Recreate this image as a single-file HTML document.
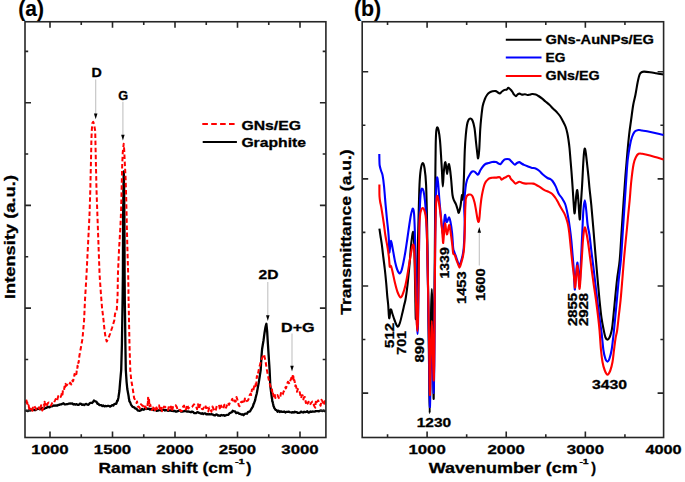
<!DOCTYPE html><html><head><meta charset="utf-8"><style>html,body{margin:0;padding:0;background:#fff;overflow:hidden}svg{display:block}svg text{font-family:"Liberation Sans",sans-serif}</style></head><body><svg width="685" height="482" viewBox="0 0 685 482">
<rect width="685" height="482" fill="#fff"/>
<path d="M25.6,410.63 L26.7,410.66 L27.8,411.04 L28.9,410.28 L30,410.21 L31.1,410.22 L32.2,409.56 L33.3,409.92 L34.4,409.98 L35.5,410.11 L36.58,408.93 L37.67,409.02 L38.75,408.53 L39.83,409.33 L40.92,408.97 L42,407.86 L43.07,409 L44.14,408.81 L45.21,408.2 L46.29,407.98 L47.36,407.16 L48.43,406.79 L49.5,407.34 L50.58,406.38 L51.67,406.27 L52.75,406.04 L53.83,405.44 L54.92,405.75 L56,405.42 L57.07,405.71 L58.14,404.98 L59.21,404.88 L60.29,404.41 L61.36,404.37 L62.43,403.81 L63.5,403.29 L64.6,404.34 L65.7,404.37 L66.8,404.2 L67.9,404.05 L69,403.54 L70.08,403.5 L71.16,403.66 L72.24,403.44 L73.32,404.49 L74.4,404.06 L75.52,404.71 L76.64,404.08 L77.76,404.9 L78.88,404.77 L80,403.6 L81.05,403.92 L82.1,404.92 L83.15,404.33 L84.2,405.07 L85.25,404.28 L86.3,403.85 L87.35,404.66 L88.4,404.89 L89.33,403.68 L90.27,402.92 L91.2,402.77 L92.1,402.98 L93,402.03 L93.9,400.47 L94.77,401.14 L95.63,401.44 L96.5,401.88 L97.43,403.75 L98.37,403.72 L99.3,405.08 L100.33,405.18 L101.37,405.07 L102.4,406.07 L103.43,405.48 L104.47,406.45 L105.5,405.96 L106.62,406.26 L107.75,405.85 L108.88,405.8 L110,406.66 L111.1,406.09 L112.2,405.06 L113.3,405.54 L114.27,404.06 L115.23,403.79 L116.2,403.9 L116.7,402.5 L117.2,400.64 L117.7,400.79 L118.2,398.6 L118.35,398 L118.5,397 L118.65,396 L118.8,395 L118.95,394 L119.1,393 L119.25,392 L119.4,391 L119.49,389.93 L119.58,388.85 L119.66,387.77 L119.75,386.7 L119.84,385.62 L119.92,384.55 L120.01,383.47 L120.1,382.4 L120.19,381.37 L120.28,380.33 L120.38,379.3 L120.47,378.27 L120.56,377.23 L120.65,376.2 L120.74,375.17 L120.83,374.13 L120.92,373.1 L121.02,372.07 L121.11,371.03 L121.2,370 L121.23,369 L121.26,368 L121.28,367 L121.31,366 L121.34,365 L121.37,364 L121.4,363 L121.42,362 L121.45,361 L121.48,360 L121.51,359 L121.54,358 L121.56,357 L121.59,356 L121.62,355 L121.65,354 L121.68,353 L121.7,352 L121.73,351 L121.76,350 L121.79,349 L121.82,348 L121.84,347 L121.87,346 L121.9,345 L121.92,344 L121.93,343 L121.95,342 L121.96,341 L121.98,340 L122,339 L122.01,338 L122.03,337 L122.04,336 L122.06,335 L122.08,334 L122.09,333 L122.11,332 L122.12,331 L122.14,330 L122.16,329 L122.17,328 L122.19,327 L122.2,326 L122.22,325 L122.24,324 L122.25,323 L122.27,322 L122.28,321 L122.3,320 L122.31,319 L122.33,318 L122.34,317 L122.36,316 L122.38,315 L122.39,314 L122.41,313 L122.42,312 L122.44,311 L122.45,310 L122.46,309 L122.48,308 L122.49,307 L122.51,306 L122.52,305 L122.54,304 L122.55,303 L122.57,302 L122.58,301 L122.6,300 L122.61,299 L122.62,298 L122.64,297 L122.65,296 L122.66,295 L122.67,294 L122.68,293 L122.7,292 L122.71,291 L122.72,290 L122.73,289 L122.74,288 L122.76,287 L122.77,286 L122.78,285 L122.79,284 L122.8,283 L122.82,282 L122.83,281 L122.84,280 L122.85,279 L122.86,278 L122.88,277 L122.89,276 L122.9,275 L122.9,274 L122.91,273 L122.91,272 L122.91,271 L122.92,270 L122.92,269 L122.93,268 L122.93,267 L122.93,266 L122.94,265 L122.94,264 L122.94,263 L122.95,262 L122.95,261 L122.95,260 L122.96,259 L122.96,258 L122.97,257 L122.97,256 L122.97,255 L122.98,254 L122.98,253 L122.98,252 L122.99,251 L122.99,250 L122.99,249 L123,248 L123,247 L123.01,246 L123.01,245 L123.01,244 L123.02,243 L123.02,242 L123.02,241 L123.03,240 L123.03,239 L123.03,238 L123.04,237 L123.04,236 L123.05,235 L123.05,234 L123.05,233 L123.06,232 L123.06,231 L123.06,230 L123.07,229 L123.07,228 L123.07,227 L123.08,226 L123.08,225 L123.09,224 L123.09,223 L123.09,222 L123.1,221 L123.1,220 L123.11,219 L123.12,218 L123.13,217 L123.14,216 L123.15,215 L123.16,214 L123.17,213 L123.18,212 L123.19,211 L123.2,210 L123.21,209 L123.22,208 L123.23,207 L123.24,206 L123.25,205 L123.26,204 L123.27,203 L123.28,202 L123.29,201 L123.3,200 L123.31,199 L123.32,198 L123.33,197 L123.34,196 L123.35,195 L123.36,194 L123.37,193 L123.38,192 L123.39,191 L123.4,190 L123.42,188.97 L123.44,187.94 L123.46,186.92 L123.48,185.89 L123.5,184.86 L123.52,183.83 L123.54,182.81 L123.56,181.78 L123.58,180.75 L123.59,179.72 L123.61,178.69 L123.63,177.67 L123.65,176.64 L123.67,175.61 L123.69,174.58 L123.71,173.56 L123.73,172.53 L123.75,171.5 L123.77,172.53 L123.79,173.56 L123.82,174.58 L123.84,175.61 L123.86,176.64 L123.88,177.67 L123.91,178.69 L123.93,179.72 L123.95,180.75 L123.97,181.78 L123.99,182.81 L124.02,183.83 L124.04,184.86 L124.06,185.89 L124.08,186.92 L124.11,187.94 L124.13,188.97 L124.15,190 L124.16,191 L124.17,192 L124.18,193 L124.18,194 L124.19,195 L124.2,196 L124.21,197 L124.22,198 L124.23,199 L124.23,200 L124.24,201 L124.25,202 L124.26,203 L124.27,204 L124.28,205 L124.28,206 L124.29,207 L124.3,208 L124.31,209 L124.32,210 L124.33,211 L124.33,212 L124.34,213 L124.35,214 L124.36,215 L124.37,216 L124.38,217 L124.38,218 L124.39,219 L124.4,220 L124.4,221 L124.41,222 L124.41,223 L124.41,224 L124.42,225 L124.42,226 L124.43,227 L124.43,228 L124.43,229 L124.44,230 L124.44,231 L124.44,232 L124.45,233 L124.45,234 L124.45,235 L124.46,236 L124.46,237 L124.47,238 L124.47,239 L124.47,240 L124.48,241 L124.48,242 L124.48,243 L124.49,244 L124.49,245 L124.49,246 L124.5,247 L124.5,248 L124.51,249 L124.51,250 L124.51,251 L124.52,252 L124.52,253 L124.52,254 L124.53,255 L124.53,256 L124.53,257 L124.54,258 L124.54,259 L124.55,260 L124.55,261 L124.55,262 L124.56,263 L124.56,264 L124.56,265 L124.57,266 L124.57,267 L124.57,268 L124.58,269 L124.58,270 L124.59,271 L124.59,272 L124.59,273 L124.6,274 L124.6,275 L124.61,276 L124.62,277 L124.62,278 L124.63,279 L124.64,280 L124.65,281 L124.66,282 L124.66,283 L124.67,284 L124.68,285 L124.69,286 L124.7,287 L124.7,288 L124.71,289 L124.72,290 L124.73,291 L124.74,292 L124.74,293 L124.75,294 L124.76,295 L124.77,296 L124.78,297 L124.78,298 L124.79,299 L124.8,300 L124.81,301 L124.83,302 L124.84,303 L124.86,304 L124.88,305 L124.89,306 L124.91,307 L124.92,308 L124.94,309 L124.95,310 L124.96,311 L124.98,312 L124.99,313 L125.01,314 L125.02,315 L125.04,316 L125.05,317 L125.07,318 L125.08,319 L125.1,320 L125.11,321 L125.12,322 L125.14,323 L125.15,324 L125.16,325 L125.17,326 L125.18,327 L125.2,328 L125.21,329 L125.22,330 L125.23,331 L125.24,332 L125.26,333 L125.27,334 L125.28,335 L125.29,336 L125.3,337 L125.32,338 L125.33,339 L125.34,340 L125.35,341 L125.36,342 L125.38,343 L125.39,344 L125.4,345 L125.42,346 L125.43,347 L125.45,348 L125.46,349 L125.48,350 L125.5,351 L125.51,352 L125.53,353 L125.54,354 L125.56,355 L125.58,356 L125.59,357 L125.61,358 L125.62,359 L125.64,360 L125.66,361 L125.67,362 L125.69,363 L125.7,364 L125.72,365 L125.74,366 L125.75,367 L125.77,368 L125.78,369 L125.8,370 L125.87,371 L125.93,372 L126,373 L126.07,374 L126.13,375 L126.2,376 L126.27,377 L126.33,378 L126.4,379 L126.47,380 L126.53,381 L126.6,382 L126.7,383 L126.8,384 L126.9,385 L127,386 L127.1,387 L127.2,388 L127.3,389 L127.48,390 L127.67,391 L127.85,392 L128.03,393 L128.22,394 L128.4,395 L128.57,396.02 L128.73,397.03 L128.9,398.67 L129.07,398.96 L129.23,400.12 L129.4,401.24 L129.88,401.89 L130.36,402.76 L130.84,404.26 L131.32,405.1 L131.8,405.7 L132.6,406.98 L133.4,407.06 L134.2,407.34 L135,408.34 L135.95,408.56 L136.9,409.22 L137.85,410.56 L138.8,410.55 L139.87,410.86 L140.93,410.25 L142,408.87 L143.27,409.78 L144.53,409.32 L145.8,407.7 L146.85,409.04 L147.9,408.55 L148.95,408.79 L150,409.66 L151.12,408.82 L152.23,409.4 L153.35,410.16 L154.47,410.05 L155.58,409.87 L156.7,410.77 L157.74,410.59 L158.77,410.35 L159.81,409.71 L160.85,410.47 L161.89,410.29 L162.93,409.99 L163.96,409.82 L165,410.54 L166.03,410 L167.06,410.48 L168.09,410.82 L169.11,410.55 L170.14,410.31 L171.17,410.79 L172.2,410.59 L173.31,411.13 L174.43,410.83 L175.54,411.53 L176.66,411.51 L177.77,411.24 L178.89,410.59 L180,410.46 L181.11,411.61 L182.23,411.51 L183.34,411.35 L184.46,411.03 L185.57,410.97 L186.69,411.6 L187.8,411.49 L188.83,411.69 L189.86,411.9 L190.89,412.23 L191.91,411.59 L192.94,411.83 L193.97,413.01 L195,413.08 L196.04,413.21 L197.07,412.21 L198.11,412.41 L199.15,412.88 L200.19,413.27 L201.23,413.72 L202.26,413.17 L203.3,413.96 L204.3,413.37 L205.3,413.45 L206.3,414.35 L207.3,414.24 L208.3,414.42 L209.3,414.12 L210.44,414.41 L211.58,414.17 L212.72,414.5 L213.86,415.2 L215,415.47 L216.04,414.48 L217.08,414.63 L218.12,415.67 L219.16,415.49 L220.2,415.78 L221.36,415 L222.52,415.29 L223.68,415.06 L224.84,415.83 L226,415.22 L227.17,414.98 L228.33,414.82 L229.5,413.26 L230.3,412.92 L231.1,412.54 L231.9,412.14 L232.7,410.8 L233.85,411.27 L235,411.44 L236.15,413.13 L237.3,412.61 L238.33,412.88 L239.37,413.82 L240.4,413.98 L241.43,414.53 L242.47,414.25 L243.5,415.19 L244.67,413.77 L245.83,413.53 L247,413.73 L247.93,412.15 L248.87,411.69 L249.8,411.51 L250.53,410.57 L251.27,409.1 L252,408 L252.43,407.23 L252.85,406.67 L253.27,405.09 L253.7,403.66 L254.02,403.45 L254.34,402.22 L254.66,401.67 L254.98,400.66 L255.3,399.58 L255.6,397.86 L255.9,396.72 L256.2,395.58 L256.5,394.44 L256.8,393.3 L256.98,392.31 L257.16,391.32 L257.35,390.33 L257.53,389.34 L257.71,388.35 L257.89,387.35 L258.07,386.36 L258.25,385.37 L258.44,384.38 L258.62,383.39 L258.8,382.4 L258.96,381.37 L259.12,380.33 L259.27,379.3 L259.43,378.27 L259.59,377.23 L259.75,376.2 L259.91,375.17 L260.07,374.13 L260.23,373.1 L260.38,372.07 L260.54,371.03 L260.7,370 L260.76,369 L260.81,368 L260.87,367 L260.93,366 L260.99,365 L261.04,364 L261.1,363 L261.16,362 L261.21,361 L261.27,360 L261.33,359 L261.39,358 L261.44,357 L261.5,356 L261.59,355 L261.67,354 L261.76,353 L261.84,352 L261.93,351 L262.01,350 L262.1,349 L262.3,347.75 L262.5,346.5 L262.67,345.5 L262.83,344.5 L263,343.5 L263.17,342.5 L263.33,341.5 L263.5,340.5 L263.64,339.43 L263.79,338.36 L263.93,337.29 L264.07,336.21 L264.21,335.14 L264.36,334.07 L264.5,333 L264.67,332 L264.83,331 L265,330 L265.17,329 L265.33,328 L265.5,327 L265.8,325.93 L266.1,324.87 L266.4,323.8 L266.5,324.82 L266.6,325.85 L266.7,326.88 L266.8,327.9 L266.9,328.93 L267,329.95 L267.1,330.98 L267.2,332 L267.26,333 L267.31,334 L267.37,335 L267.43,336 L267.49,337 L267.54,338 L267.6,339 L267.66,340 L267.73,341 L267.79,342 L267.85,343 L267.92,344 L267.98,345 L268.05,346 L268.11,347 L268.17,348 L268.24,349 L268.3,350 L268.37,351.08 L268.44,352.16 L268.51,353.24 L268.58,354.32 L268.65,355.4 L268.72,356.48 L268.79,357.56 L268.86,358.64 L268.93,359.72 L269,360.8 L269.07,361.82 L269.13,362.84 L269.2,363.87 L269.27,364.89 L269.33,365.91 L269.4,366.93 L269.47,367.96 L269.53,368.98 L269.6,370 L269.65,371.04 L269.69,372.08 L269.74,373.12 L269.79,374.16 L269.83,375.2 L269.88,376.24 L269.93,377.28 L269.97,378.32 L270.02,379.36 L270.07,380.4 L270.11,381.44 L270.16,382.48 L270.21,383.52 L270.25,384.56 L270.3,385.6 L270.43,386.66 L270.56,387.71 L270.69,388.77 L270.81,389.83 L270.94,390.89 L271.07,391.94 L271.2,393 L271.34,394.01 L271.48,395.02 L271.61,396.04 L271.75,397.05 L271.89,398.51 L272.02,398.49 L272.16,399.77 L272.3,401.4 L272.6,401.64 L272.9,403.27 L273.2,404.36 L273.5,406.14 L273.87,406.65 L274.23,408.07 L274.6,408.33 L275.57,409.84 L276.53,410.15 L277.5,411.68 L278.63,410.73 L279.77,411.96 L280.9,411.29 L282.01,411.85 L283.13,411.91 L284.24,411.48 L285.36,412.51 L286.47,411.86 L287.59,411.95 L288.7,411.71 L289.72,412.03 L290.75,412.25 L291.77,412.6 L292.8,412.1 L293.82,412.56 L294.85,411.75 L295.88,412.15 L296.9,412.25 L297.93,412.95 L298.95,412.76 L299.98,412.52 L301,411.62 L302.05,412.08 L303.1,412.49 L304.15,411.78 L305.2,412.19 L306.25,411.99 L307.3,411.31 L308.35,412.64 L309.4,412.32 L310.45,411.44 L311.5,411.96 L312.55,411.46 L313.6,411.53 L314.68,411.64 L315.76,411.18 L316.85,411.12 L317.93,411.08 L319.01,411.34 L320.09,410.65 L321.17,410.45 L322.25,411.08 L323.34,410.4 L324.42,411.14 L325.5,410.49" fill="none" stroke="#000" stroke-width="2.3" stroke-linejoin="round"/>
<path d="M25.6,402.94 L26.5,400.41 L26.88,404.53 L27.25,402.18 L27.62,406.09 L28,406.19 L28.6,405.25 L29.2,408.84 L29.8,406.92 L30.4,410.2 L31,408.92 L31.5,408.17 L32,409.3 L32.5,410.84 L33,405.74 L34.25,405.99 L35.5,408.06 L36.75,410.59 L38,408.96 L39,407.38 L40,410.36 L41.1,405.25 L42.2,410.58 L43.3,407.64 L43.57,405.7 L43.83,404.47 L44.1,404.55 L44.37,406.53 L44.63,401.65 L44.9,402.99 L45.43,404.5 L45.97,404.07 L46.5,406.29 L48,402.88 L49.03,402.52 L50.07,403.07 L51.1,405.58 L52.07,403.23 L53.03,401.72 L54,402.51 L54.83,400.84 L55.65,399.05 L56.47,401.14 L57.3,399.69 L58.2,396.13 L59.1,397.28 L60,396.15 L60.67,396.89 L61.33,395.39 L62,392.52 L62.5,394.58 L63,389.49 L63.5,389.75 L64,390.18 L64.54,386.4 L65.08,386.95 L65.62,383.88 L66.16,385.77 L66.7,385.22 L67.85,384.09 L69,385.23 L70.15,382.64 L71.3,384.4 L71.69,383.01 L72.07,382.01 L72.46,380.51 L72.84,381.35 L73.23,380.9 L73.61,377.81 L74,377.76 L74.5,373.98 L75,375.93 L75.5,374.68 L76,375.27 L76.5,373.48 L76.75,370.01 L77,369.47 L77.25,369.78 L77.5,365.8 L77.75,366.82 L78,364.47 L78.25,363.24 L78.5,361.97 L78.68,362.36 L78.86,360.72 L79.04,359.08 L79.22,357.44 L79.4,355.8 L79.72,354.04 L80.04,352.28 L80.36,350.52 L80.68,348.76 L81,347 L81.3,345.34 L81.6,343.68 L81.9,342.02 L82.2,340.36 L82.5,338.7 L82.63,337.14 L82.77,335.58 L82.9,334.02 L83.03,332.47 L83.17,330.91 L83.3,329.35 L83.43,327.79 L83.57,326.23 L83.7,324.68 L83.83,323.12 L83.97,321.56 L84.1,320 L84.17,318.46 L84.24,316.92 L84.31,315.38 L84.38,313.85 L84.45,312.31 L84.52,310.77 L84.58,309.23 L84.65,307.69 L84.72,306.15 L84.79,304.62 L84.86,303.08 L84.93,301.54 L85,300 L85.09,298.44 L85.19,296.88 L85.28,295.31 L85.38,293.75 L85.47,292.19 L85.56,290.62 L85.66,289.06 L85.75,287.5 L85.84,285.94 L85.94,284.38 L86.03,282.81 L86.12,281.25 L86.22,279.69 L86.31,278.12 L86.41,276.56 L86.5,275 L86.58,273.5 L86.65,272 L86.72,270.5 L86.8,269 L86.88,267.5 L86.95,266 L87.03,264.5 L87.1,263 L87.17,261.5 L87.25,260 L87.33,258.5 L87.4,257 L87.47,255.5 L87.55,254 L87.62,252.5 L87.7,251 L87.78,249.5 L87.85,248 L87.92,246.5 L88,245 L88.08,243.5 L88.15,242 L88.22,240.5 L88.3,239 L88.38,237.5 L88.45,236 L88.53,234.5 L88.6,233 L88.67,231.5 L88.75,230 L88.83,228.5 L88.9,227 L88.97,225.5 L89.05,224 L89.12,222.5 L89.2,221 L89.28,219.5 L89.35,218 L89.42,216.5 L89.5,215 L89.55,213.44 L89.6,211.88 L89.65,210.31 L89.7,208.75 L89.75,207.19 L89.8,205.62 L89.85,204.06 L89.9,202.5 L89.95,200.94 L90,199.38 L90.05,197.81 L90.1,196.25 L90.15,194.69 L90.2,193.12 L90.25,191.56 L90.3,190 L90.33,188.5 L90.37,187 L90.41,185.5 L90.44,184 L90.47,182.5 L90.51,181 L90.55,179.5 L90.58,178 L90.61,176.5 L90.65,175 L90.69,173.5 L90.72,172 L90.75,170.5 L90.79,169 L90.83,167.5 L90.86,166 L90.89,164.5 L90.93,163 L90.97,161.5 L91,160 L91.03,158.46 L91.06,156.92 L91.09,155.38 L91.12,153.85 L91.15,152.31 L91.18,150.77 L91.22,149.23 L91.25,147.69 L91.28,146.15 L91.31,144.62 L91.34,143.08 L91.37,141.54 L91.4,140 L91.47,138.33 L91.53,136.67 L91.6,135 L91.67,133.33 L91.73,131.67 L91.8,130 L91.95,128.25 L92.1,126.5 L92.25,124.75 L92.4,123 L93.2,121.8 L94,124 L94.3,125.75 L94.6,127.5 L94.9,129.25 L95.2,131 L95.23,132.55 L95.27,134.1 L95.3,135.64 L95.33,137.19 L95.37,138.74 L95.4,140.29 L95.43,141.83 L95.47,143.38 L95.5,144.93 L95.53,146.48 L95.57,148.02 L95.6,149.57 L95.63,151.12 L95.67,152.67 L95.7,154.21 L95.73,155.76 L95.77,157.31 L95.8,158.86 L95.83,160.4 L95.87,161.95 L95.9,163.5 L95.94,165.06 L95.97,166.62 L96.01,168.18 L96.04,169.74 L96.08,171.29 L96.11,172.85 L96.15,174.41 L96.18,175.97 L96.22,177.53 L96.25,179.09 L96.29,180.65 L96.32,182.21 L96.36,183.76 L96.39,185.32 L96.43,186.88 L96.46,188.44 L96.5,190 L96.56,191.56 L96.61,193.12 L96.67,194.69 L96.72,196.25 L96.78,197.81 L96.84,199.38 L96.89,200.94 L96.95,202.5 L97.01,204.06 L97.06,205.62 L97.12,207.19 L97.18,208.75 L97.23,210.31 L97.29,211.88 L97.34,213.44 L97.4,215 L97.46,216.5 L97.51,218 L97.56,219.5 L97.62,221 L97.68,222.5 L97.73,224 L97.78,225.5 L97.84,227 L97.9,228.5 L97.95,230 L98,231.5 L98.06,233 L98.12,234.5 L98.17,236 L98.22,237.5 L98.28,239 L98.34,240.5 L98.39,242 L98.44,243.5 L98.5,245 L98.56,246.5 L98.61,248 L98.66,249.5 L98.72,251 L98.78,252.5 L98.83,254 L98.88,255.5 L98.94,257 L99,258.5 L99.05,260 L99.1,261.5 L99.16,263 L99.22,264.5 L99.27,266 L99.32,267.5 L99.38,269 L99.44,270.5 L99.49,272 L99.54,273.5 L99.6,275 L99.71,276.54 L99.82,278.08 L99.92,279.62 L100.03,281.15 L100.14,282.69 L100.25,284.23 L100.35,285.77 L100.46,287.31 L100.57,288.85 L100.68,290.38 L100.78,291.92 L100.89,293.46 L101,295 L101.12,296.54 L101.25,298.07 L101.38,299.61 L101.5,301.15 L101.62,302.69 L101.75,304.23 L101.88,305.76 L102,307.3 L102.19,308.89 L102.38,310.48 L102.56,312.06 L102.75,313.65 L102.94,315.24 L103.12,316.82 L103.31,318.41 L103.5,320 L103.67,321.67 L103.83,323.33 L104,325 L104.17,326.67 L104.33,328.33 L104.5,330 L104.75,331.75 L105,333.5 L105.25,335.25 L105.5,337 L105.9,338.5 L106.3,340 L106.7,341.5 L107.6,339.75 L108.5,338 L109.25,336 L110,334 L110.5,332.5 L111,331 L111.5,329.5 L112,328 L112.48,326.4 L112.96,324.8 L113.44,323.2 L113.92,321.6 L114.4,320 L114.55,318.5 L114.7,317 L114.85,315.5 L115,314 L115.6,312.5 L116.2,311 L116.8,309.5 L116.89,307.89 L116.98,306.28 L117.07,304.67 L117.16,303.06 L117.24,301.44 L117.33,299.83 L117.42,298.22 L117.51,296.61 L117.6,295 L117.62,293.46 L117.65,291.92 L117.67,290.38 L117.69,288.85 L117.72,287.31 L117.74,285.77 L117.76,284.23 L117.78,282.69 L117.81,281.15 L117.83,279.62 L117.85,278.08 L117.88,276.54 L117.9,275 L117.97,273.44 L118.04,271.88 L118.11,270.31 L118.18,268.75 L118.24,267.19 L118.31,265.62 L118.38,264.06 L118.45,262.5 L118.52,260.94 L118.59,259.38 L118.66,257.81 L118.72,256.25 L118.79,254.69 L118.86,253.12 L118.93,251.56 L119,250 L119.09,248.44 L119.19,246.88 L119.28,245.31 L119.38,243.75 L119.47,242.19 L119.56,240.62 L119.66,239.06 L119.75,237.5 L119.84,235.94 L119.94,234.38 L120.03,232.81 L120.12,231.25 L120.22,229.69 L120.31,228.12 L120.41,226.56 L120.5,225 L120.56,223.5 L120.62,222 L120.68,220.5 L120.74,219 L120.8,217.5 L120.86,216 L120.92,214.5 L120.98,213 L121.04,211.5 L121.1,210 L121.14,208.46 L121.18,206.92 L121.22,205.38 L121.25,203.85 L121.29,202.31 L121.33,200.77 L121.37,199.23 L121.41,197.69 L121.45,196.15 L121.48,194.62 L121.52,193.08 L121.56,191.54 L121.6,190 L121.64,188.44 L121.67,186.88 L121.71,185.31 L121.75,183.75 L121.79,182.19 L121.83,180.62 L121.86,179.06 L121.9,177.5 L121.94,175.94 L121.97,174.38 L122.01,172.81 L122.05,171.25 L122.09,169.69 L122.12,168.12 L122.16,166.56 L122.2,165 L122.28,163.38 L122.35,161.75 L122.42,160.12 L122.5,158.5 L122.58,156.88 L122.65,155.25 L122.72,153.62 L122.8,152 L122.98,150.36 L123.16,148.72 L123.34,147.08 L123.52,145.44 L123.7,143.8 L123.83,145.35 L123.95,146.9 L124.08,148.45 L124.2,150 L124.28,151.62 L124.35,153.25 L124.42,154.88 L124.5,156.5 L124.58,158.12 L124.65,159.75 L124.72,161.38 L124.8,163 L124.88,164.5 L124.96,166 L125.04,167.5 L125.12,169 L125.2,170.5 L125.28,172 L125.36,173.5 L125.44,175 L125.52,176.5 L125.6,178 L125.65,179.54 L125.69,181.08 L125.74,182.62 L125.78,184.15 L125.83,185.69 L125.88,187.23 L125.92,188.77 L125.97,190.31 L126.02,191.85 L126.06,193.38 L126.11,194.92 L126.15,196.46 L126.2,198 L126.24,199.55 L126.27,201.09 L126.31,202.64 L126.35,204.18 L126.38,205.73 L126.42,207.27 L126.45,208.82 L126.49,210.36 L126.53,211.91 L126.56,213.45 L126.6,215 L126.63,216.5 L126.67,218 L126.7,219.5 L126.74,221 L126.77,222.5 L126.81,224 L126.84,225.5 L126.88,227 L126.91,228.5 L126.95,230 L126.98,231.5 L127.02,233 L127.05,234.5 L127.09,236 L127.12,237.5 L127.16,239 L127.19,240.5 L127.23,242 L127.27,243.5 L127.3,245 L127.34,246.5 L127.39,248 L127.44,249.5 L127.48,251 L127.52,252.5 L127.57,254 L127.61,255.5 L127.66,257 L127.7,258.5 L127.75,260 L127.79,261.5 L127.84,263 L127.88,264.5 L127.93,266 L127.97,267.5 L128.02,269 L128.06,270.5 L128.11,272 L128.16,273.5 L128.2,275 L128.22,276.56 L128.25,278.12 L128.27,279.69 L128.3,281.25 L128.32,282.81 L128.35,284.38 L128.38,285.94 L128.4,287.5 L128.42,289.06 L128.45,290.62 L128.47,292.19 L128.5,293.75 L128.53,295.31 L128.55,296.88 L128.57,298.44 L128.6,300 L128.63,301.54 L128.66,303.08 L128.69,304.62 L128.72,306.15 L128.75,307.69 L128.78,309.23 L128.82,310.77 L128.85,312.31 L128.88,313.85 L128.91,315.38 L128.94,316.92 L128.97,318.46 L129,320 L129.03,321.56 L129.06,323.12 L129.09,324.69 L129.12,326.25 L129.16,327.81 L129.19,329.38 L129.22,330.94 L129.25,332.5 L129.28,334.06 L129.31,335.62 L129.34,337.19 L129.38,338.75 L129.41,340.31 L129.44,341.88 L129.47,343.44 L129.5,345 L129.55,346.56 L129.6,348.12 L129.65,349.69 L129.7,351.25 L129.75,352.81 L129.8,354.38 L129.85,355.94 L129.9,357.5 L129.95,359.06 L130,360.62 L130.05,362.19 L130.1,363.75 L130.15,365.31 L130.2,366.88 L130.25,368.44 L130.3,370 L130.45,371.67 L130.6,373.33 L130.75,375 L130.9,376.67 L131.05,378.33 L131.2,380 L131.52,381.77 L131.85,383.55 L132.18,385.33 L132.5,387.1 L132.73,388.66 L132.96,390.21 L133.19,391.77 L133.41,393.33 L133.64,394.89 L133.87,396.44 L134.1,398 L134.93,399.67 L135.77,401.33 L136.6,403 L137.04,401.48 L137.48,405.27 L137.92,406.68 L138.36,406.57 L138.8,406.64 L139.87,408.31 L140.93,404.16 L142,405.31 L143,405.93 L144,408.59 L145,406.37 L146.25,408.55 L147.5,406.85 L147.59,404.35 L147.68,403.37 L147.77,406.6 L147.86,404.01 L147.94,400.57 L148.03,397.8 L148.12,399.6 L148.21,399.6 L148.3,397.02 L148.45,397.04 L148.6,400.5 L148.75,403.05 L148.9,399.86 L149.05,399.7 L149.2,402.53 L149.35,404.02 L149.5,406.6 L150.33,404.69 L151.17,409.28 L152,409.93 L153,408.2 L154,406.06 L155,410.32 L156,406.25 L157,409.17 L158,405.51 L159,405.33 L160,409.06 L161,406.77 L162,411.21 L163,408.47 L164,406.62 L165,406.84 L166,407.67 L167,408.83 L168,410.19 L169,405.63 L170,407.36 L171,406.53 L172,411.34 L173.18,406.1 L174.35,405.31 L175.52,405.11 L176.7,406.86 L177.8,410.22 L178.9,410.47 L180,409.9 L181,411.24 L182,410.59 L183,406.73 L184,405.61 L185.1,410.12 L186.2,408.98 L187.3,404.69 L188.4,408.49 L189.6,406.94 L190.8,407.08 L192,406.99 L193,405.64 L194,404.27 L195,405.55 L196,405.61 L197,409.23 L198,404.24 L199,409.29 L200,404.74 L201,405.89 L202,408.93 L203,409.18 L204,407.09 L205.06,405.16 L206.12,408.06 L207.18,407.82 L208.24,411.46 L209.3,407.46 L210.35,408.49 L211.4,411.68 L212.45,406.48 L213.5,408.76 L214.55,411.17 L215.6,410.9 L216.73,405.94 L217.87,405.31 L219,404.88 L220.07,409.77 L221.15,405.54 L222.23,408.23 L223.3,408.89 L224.23,405.03 L225.15,404.13 L226.07,407.75 L227,405.2 L228.03,402.62 L229.05,404.9 L230.07,402.05 L231.1,401.35 L232.3,398.87 L233.5,402.53 L234.27,402.77 L235.03,400.34 L235.8,401.46 L236.53,397.01 L237.27,399.34 L238,401.85 L238.8,405.47 L239.6,406.19 L240.4,403.52 L241.27,401.81 L242.13,401.98 L243,401.46 L243.93,403.57 L244.85,398.6 L245.77,401.82 L246.7,400.93 L247.47,400.77 L248.23,399.8 L249,398.14 L249.57,395.42 L250.15,394.32 L250.73,393.52 L251.3,394.99 L251.93,389.67 L252.57,389.28 L253.2,391.52 L253.87,387.52 L254.53,385.46 L255.2,384.3 L255.42,386.34 L255.65,383.9 L255.88,386.76 L256.1,385.1 L256.32,384.65 L256.55,379.24 L256.77,377.08 L257,376.08 L257.33,376.83 L257.67,375.17 L258,373.5 L258.33,371.83 L258.67,370.17 L259,368.5 L259.4,367 L259.8,365.5 L260.2,364 L260.6,362.5 L261,361 L261.75,359 L262.5,357 L263.25,355.65 L264,354.3 L264.38,355.98 L264.75,357.65 L265.12,359.32 L265.5,361 L265.73,362.5 L265.97,364 L266.2,365.5 L266.43,367 L266.67,368.5 L266.9,370 L267.2,371.57 L267.5,373.14 L267.8,374.71 L268.1,376.29 L268.4,377.86 L268.7,379.43 L269,381 L269.42,382.53 L269.83,384.07 L270.25,385.6 L270.67,387.13 L271.08,388.67 L271.5,390.2 L272,389.27 L272.5,394.9 L273,393.5 L273.8,396.51 L274.6,394.08 L275.4,397.97 L276.2,396.39 L277.47,395.06 L278.73,397.97 L280,398.77 L280.93,392.96 L281.85,395.13 L282.77,394.49 L283.7,391.31 L284.12,391.18 L284.53,388.78 L284.95,388.12 L285.37,387.4 L285.78,388.43 L286.2,387.71 L287.03,383.99 L287.87,381.8 L288.7,382.66 L289.6,383.82 L290.5,379.91 L290.93,379.57 L291.37,377.82 L291.8,380.27 L292.4,377.94 L293,374.18 L293.26,375.53 L293.52,378.41 L293.78,380.46 L294.04,382.12 L294.3,379.95 L294.68,381.5 L295.06,385.81 L295.44,385.22 L295.82,385.58 L296.2,386.85 L297,391.75 L297.8,388.94 L298.6,391.5 L299.24,391.24 L299.88,392.6 L300.52,396.29 L301.16,398.08 L301.8,395.28 L302.57,395.23 L303.35,399.37 L304.12,397.17 L304.9,396.94 L305.82,402.91 L306.75,400.64 L307.68,403.62 L308.6,401.74 L309.83,405.03 L311.07,402.93 L312.3,401.58 L313.13,401.52 L313.97,405.58 L314.8,406.94 L315.3,407.68 L315.8,401.87 L316.3,404.19 L316.8,401.81 L317.3,401.73 L318.13,400.41 L318.97,402.07 L319.8,404.33 L320.63,405.72 L321.47,399.79 L322.3,401.04 L323.1,403.55 L323.9,405.15 L324.7,401.16 L325.5,401.36" fill="none" stroke="#ff0000" stroke-width="2" stroke-dasharray="4.5 2.6" stroke-linejoin="round"/>
<rect x="25" y="21.75" width="300.9" height="415.75" fill="none" stroke="#262626" stroke-width="1.6"/>
<path d="M50,437.5v-6M50,21.75v6M112.5,437.5v-6M112.5,21.75v6M175,437.5v-6M175,21.75v6M237.5,437.5v-6M237.5,21.75v6M300,437.5v-6M300,21.75v6M81.25,437.5v-3.2M81.25,21.75v3.2M143.75,437.5v-3.2M143.75,21.75v3.2M206.25,437.5v-3.2M206.25,21.75v3.2M268.75,437.5v-3.2M268.75,21.75v3.2M25,102.7h6M325.9,102.7h-6M25,205.4h6M325.9,205.4h-6M25,308.1h6M325.9,308.1h-6M25,410.8h6M325.9,410.8h-6M25,51.35h3.2M325.9,51.35h-3.2M25,154.05h3.2M325.9,154.05h-3.2M25,256.75h3.2M325.9,256.75h-3.2M25,359.45h3.2M325.9,359.45h-3.2" stroke="#262626" stroke-width="1.6" fill="none"/>
<rect x="362.2" y="21.75" width="301.4" height="415.75" fill="none" stroke="#262626" stroke-width="1.6"/>
<path d="M427.1,437.5v-6M427.1,21.75v6M506.23,437.5v-6M506.23,21.75v6M585.36,437.5v-6M585.36,21.75v6M387.54,437.5v-3.2M387.54,21.75v3.2M466.67,437.5v-3.2M466.67,21.75v3.2M545.8,437.5v-3.2M545.8,21.75v3.2M624.93,437.5v-3.2M624.93,21.75v3.2M362.2,71.7h6M663.6,71.7h-6M362.2,178.85h6M663.6,178.85h-6M362.2,286h6M663.6,286h-6M362.2,393.15h6M663.6,393.15h-6M362.2,125.27h3.2M663.6,125.27h-3.2M362.2,232.42h3.2M663.6,232.42h-3.2M362.2,339.57h3.2M663.6,339.57h-3.2" stroke="#262626" stroke-width="1.6" fill="none"/>
<line x1="95.7" y1="79.5" x2="95.7" y2="114" stroke="#c2c2c2" stroke-width="1.1"/>
<path d="M93.95,113.5 L97.45,113.5 L95.7,119.3 Z" fill="#000"/>
<line x1="122.9" y1="101.7" x2="122.9" y2="135.2" stroke="#c2c2c2" stroke-width="1.1"/>
<path d="M121.15,134.7 L124.65,134.7 L122.9,140.5 Z" fill="#000"/>
<line x1="267.8" y1="282" x2="267.8" y2="315.7" stroke="#c2c2c2" stroke-width="1.1"/>
<path d="M266.05,315.2 L269.55,315.2 L267.8,321 Z" fill="#000"/>
<line x1="292" y1="333.5" x2="292" y2="366.2" stroke="#c2c2c2" stroke-width="1.1"/>
<path d="M290.25,365.7 L293.75,365.7 L292,371.5 Z" fill="#000"/>
<text x="91.4" y="77" font-size="13" font-weight="bold" fill="#000" stroke="#000" stroke-width="0.3" textLength="10.3" lengthAdjust="spacingAndGlyphs">D</text>
<text x="118.3" y="99.6" font-size="13" font-weight="bold" fill="#000" stroke="#000" stroke-width="0.3" textLength="9.9" lengthAdjust="spacingAndGlyphs">G</text>
<text x="258.6" y="279.4" font-size="13" font-weight="bold" fill="#000" stroke="#000" stroke-width="0.3" textLength="19.9" lengthAdjust="spacingAndGlyphs">2D</text>
<text x="281" y="332.1" font-size="13" font-weight="bold" fill="#000" stroke="#000" stroke-width="0.3" textLength="33.6" lengthAdjust="spacingAndGlyphs">D+G</text>
<line x1="202.3" y1="124" x2="235" y2="124" stroke="#ff0000" stroke-width="2" stroke-dasharray="5.6 3.3"/>
<line x1="202.7" y1="142.1" x2="236.9" y2="142.1" stroke="#000" stroke-width="2"/>
<text x="241.4" y="129.6" font-size="13" font-weight="bold" fill="#000" stroke="#000" stroke-width="0.3" textLength="59.6" lengthAdjust="spacingAndGlyphs">GNs/EG</text>
<text x="241.4" y="147" font-size="13" font-weight="bold" fill="#000" stroke="#000" stroke-width="0.3" textLength="64.7" lengthAdjust="spacingAndGlyphs">Graphite</text>
<text x="31.3" y="454.1" font-size="13.2" font-weight="bold" fill="#000" stroke="#000" stroke-width="0.3" textLength="37.4" lengthAdjust="spacingAndGlyphs">1000</text>
<text x="93.8" y="454.1" font-size="13.2" font-weight="bold" fill="#000" stroke="#000" stroke-width="0.3" textLength="37.4" lengthAdjust="spacingAndGlyphs">1500</text>
<text x="156.3" y="454.1" font-size="13.2" font-weight="bold" fill="#000" stroke="#000" stroke-width="0.3" textLength="37.4" lengthAdjust="spacingAndGlyphs">2000</text>
<text x="218.8" y="454.1" font-size="13.2" font-weight="bold" fill="#000" stroke="#000" stroke-width="0.3" textLength="37.4" lengthAdjust="spacingAndGlyphs">2500</text>
<text x="281.3" y="454.1" font-size="13.2" font-weight="bold" fill="#000" stroke="#000" stroke-width="0.3" textLength="37.4" lengthAdjust="spacingAndGlyphs">3000</text>
<text x="98.6" y="472.5" font-size="14.5" font-weight="bold" fill="#000" stroke="#000" stroke-width="0.3" textLength="134.7" lengthAdjust="spacingAndGlyphs">Raman shift (cm</text>
<text x="234.9" y="464.4" font-size="7.5" font-weight="bold" fill="#000" stroke="#000" stroke-width="0.3" textLength="9.7" lengthAdjust="spacingAndGlyphs">-1</text>
<text x="246.2" y="472.5" font-size="14.5" font-weight="bold" fill="#000" stroke="#000" stroke-width="0.3" textLength="5.2" lengthAdjust="spacingAndGlyphs">)</text>
<text x="14.6" y="299.1" font-size="15" font-weight="bold" fill="#000" stroke="#000" stroke-width="0.3" textLength="124.1" lengthAdjust="spacingAndGlyphs" transform="rotate(-90 14.6 299.1)">Intensity (a.u.)</text>
<text x="18.3" y="16" font-size="21.5" font-weight="bold" fill="#000" stroke="#000" stroke-width="0.15" textLength="25.6" lengthAdjust="spacingAndGlyphs">(a)</text>
<text x="353.9" y="15.8" font-size="21.5" font-weight="bold" fill="#000" stroke="#000" stroke-width="0.15" textLength="27.3" lengthAdjust="spacingAndGlyphs">(b)</text>
<text x="408.4" y="454.1" font-size="13.2" font-weight="bold" fill="#000" stroke="#000" stroke-width="0.3" textLength="37.4" lengthAdjust="spacingAndGlyphs">1000</text>
<text x="487.53" y="454.1" font-size="13.2" font-weight="bold" fill="#000" stroke="#000" stroke-width="0.3" textLength="37.4" lengthAdjust="spacingAndGlyphs">2000</text>
<text x="566.66" y="454.1" font-size="13.2" font-weight="bold" fill="#000" stroke="#000" stroke-width="0.3" textLength="37.4" lengthAdjust="spacingAndGlyphs">3000</text>
<text x="645.4" y="454.1" font-size="13.2" font-weight="bold" fill="#000" stroke="#000" stroke-width="0.3" textLength="36.2" lengthAdjust="spacingAndGlyphs">4000</text>
<text x="428.8" y="472.5" font-size="14.5" font-weight="bold" fill="#000" stroke="#000" stroke-width="0.3" textLength="148.9" lengthAdjust="spacingAndGlyphs">Wavenumber (cm</text>
<text x="579.4" y="464.3" font-size="7.5" font-weight="bold" fill="#000" stroke="#000" stroke-width="0.3" textLength="9.2" lengthAdjust="spacingAndGlyphs">-1</text>
<text x="591.2" y="472.5" font-size="14.5" font-weight="bold" fill="#000" stroke="#000" stroke-width="0.3" textLength="4.8" lengthAdjust="spacingAndGlyphs">)</text>
<text x="351.1" y="314.7" font-size="15" font-weight="bold" fill="#000" stroke="#000" stroke-width="0.3" textLength="165.4" lengthAdjust="spacingAndGlyphs" transform="rotate(-90 351.1 314.7)">Transmittance (a.u.)</text>
<line x1="505.8" y1="39.8" x2="541.5" y2="39.8" stroke="#000" stroke-width="2"/>
<line x1="505.8" y1="57.6" x2="541.5" y2="57.6" stroke="#0000ff" stroke-width="2"/>
<line x1="505.8" y1="76.1" x2="541.5" y2="76.1" stroke="#ff0000" stroke-width="2"/>
<text x="545.6" y="44.4" font-size="13" font-weight="bold" fill="#000" stroke="#000" stroke-width="0.3" textLength="108.2" lengthAdjust="spacingAndGlyphs">GNs-AuNPs/EG</text>
<text x="545.6" y="62.2" font-size="13" font-weight="bold" fill="#000" stroke="#000" stroke-width="0.3" textLength="19.9" lengthAdjust="spacingAndGlyphs">EG</text>
<text x="545.6" y="80.1" font-size="13" font-weight="bold" fill="#000" stroke="#000" stroke-width="0.3" textLength="54.1" lengthAdjust="spacingAndGlyphs">GNs/EG</text>
<path d="M379.4,228.6 C379.58,229.83 380.12,233.48 380.5,236 C380.88,238.52 381.23,240.2 381.7,243.7 C382.17,247.2 382.77,252.62 383.3,257 C383.83,261.38 384.42,265.67 384.9,270 C385.38,274.33 385.82,278.78 386.2,283 C386.58,287.22 386.87,291.63 387.2,295.3 C387.53,298.97 387.87,301.17 388.2,305 C388.53,308.83 388.78,317.55 389.2,318.3 C389.62,319.05 390.15,310.22 390.7,309.5 C391.25,308.78 391.87,312.25 392.5,314 C393.13,315.75 393.65,317.92 394.5,320 C395.35,322.08 396.68,326.08 397.6,326.5 C398.52,326.92 399.18,324.85 400,322.5 C400.82,320.15 401.8,315.32 402.5,312.4 C403.2,309.48 403.68,307.23 404.2,305 C404.72,302.77 405.05,302.33 405.6,299 C406.15,295.67 406.85,290.67 407.5,285 C408.15,279.33 408.92,271.5 409.5,265 C410.08,258.5 410.55,250.83 411,246 C411.45,241.17 411.87,238.38 412.2,236 C412.53,233.62 412.73,231.7 413,231.7 C413.27,231.7 413.55,232.12 413.8,236 C414.05,239.88 414.27,246 414.5,255 C414.73,264 414.98,279.33 415.2,290 C415.42,300.67 415.58,317.33 415.8,319 C416.02,320.67 416.22,309.83 416.5,300 C416.78,290.17 417.17,273.33 417.5,260 C417.83,246.67 418.17,232.5 418.5,220 C418.83,207.5 419.13,193.33 419.5,185 C419.87,176.67 420.18,173.65 420.7,170 C421.22,166.35 421.97,163.43 422.6,163.1 C423.23,162.77 423.92,164.35 424.5,168 C425.08,171.65 425.65,174.67 426.1,185 C426.55,195.33 426.85,210.83 427.2,230 C427.55,249.17 427.88,276.67 428.2,300 C428.52,323.33 428.85,351.17 429.1,370 C429.35,388.83 429.48,413 429.7,413 C429.92,413 430.17,387.17 430.4,370 C430.63,352.83 430.87,323.5 431.1,310 C431.33,296.5 431.57,289 431.8,289 C432.03,289 432.27,296.5 432.5,310 C432.73,323.5 433,355.33 433.2,370 C433.4,384.67 433.53,403 433.7,398 C433.87,393 434.05,359.67 434.2,340 C434.35,320.33 434.47,298.33 434.6,280 C434.73,261.67 434.9,243.33 435,230 C435.1,216.67 435.13,210 435.2,200 C435.27,190 435.32,179.17 435.4,170 C435.48,160.83 435.57,151.33 435.7,145 C435.83,138.67 435.95,134.95 436.2,132 C436.45,129.05 436.8,127.55 437.2,127.3 C437.6,127.05 438.13,128.3 438.6,130.5 C439.07,132.7 439.6,136.42 440,140.5 C440.4,144.58 440.67,149.75 441,155 C441.33,160.25 441.7,166.75 442,172 C442.3,177.25 442.5,186.5 442.8,186.5 C443.1,186.5 443.4,176.03 443.8,172 C444.2,167.97 444.8,163.13 445.2,162.3 C445.6,161.47 445.88,165.05 446.2,167 C446.52,168.95 446.78,174 447.1,174 C447.42,174 447.78,168.63 448.1,167 C448.42,165.37 448.67,163.7 449,164.2 C449.33,164.7 449.73,167.37 450.1,170 C450.47,172.63 450.8,175.83 451.2,180 C451.6,184.17 452.03,191.6 452.5,195 C452.97,198.4 453.43,198.88 454,200.4 C454.57,201.92 455.32,202.67 455.9,204.1 C456.48,205.53 457.02,207.55 457.5,209 C457.98,210.45 458.3,213.3 458.8,212.8 C459.3,212.3 459.97,208.97 460.5,206 C461.03,203.03 461.62,196.17 462,195 C462.38,193.83 462.48,201.83 462.8,199 C463.12,196.17 463.57,186.17 463.9,178 C464.23,169.83 464.48,157.17 464.8,150 C465.12,142.83 465.43,139.17 465.8,135 C466.17,130.83 466.55,127.5 467,125 C467.45,122.5 467.92,121.08 468.5,120 C469.08,118.92 469.83,118.42 470.5,118.5 C471.17,118.58 471.83,118.92 472.5,120.5 C473.17,122.08 473.92,124.42 474.5,128 C475.08,131.58 475.55,137.92 476,142 C476.45,146.08 476.85,149.78 477.2,152.5 C477.55,155.22 477.77,158.72 478.1,158.3 C478.43,157.88 478.85,154.72 479.2,150 C479.55,145.28 479.87,135.33 480.2,130 C480.53,124.67 480.78,122 481.2,118 C481.62,114 482.12,109.08 482.7,106 C483.28,102.92 483.98,101.33 484.7,99.5 C485.42,97.67 486.17,96.18 487,95 C487.83,93.82 488.78,93.02 489.7,92.4 C490.62,91.78 491.47,91.52 492.5,91.3 C493.53,91.08 494.98,90.9 495.9,91.1 C496.82,91.3 497.37,92.12 498,92.5 C498.63,92.88 499.03,93.57 499.7,93.4 C500.37,93.23 501.18,92.08 502,91.5 C502.82,90.92 503.85,90.2 504.6,89.9 C505.35,89.6 505.87,90.03 506.5,89.7 C507.13,89.37 507.73,87.93 508.4,87.9 C509.07,87.87 509.82,88.82 510.5,89.5 C511.18,90.18 511.92,91.17 512.5,92 C513.08,92.83 513.45,93.82 514,94.5 C514.55,95.18 515.22,96.1 515.8,96.1 C516.38,96.1 516.87,94.92 517.5,94.5 C518.13,94.08 518.85,93.58 519.6,93.6 C520.35,93.62 521.1,94.5 522,94.6 C522.9,94.7 524.08,94.13 525,94.2 C525.92,94.27 526.75,94.92 527.5,95 C528.25,95.08 528.75,94.87 529.5,94.7 C530.25,94.53 530.97,94.05 532,94 C533.03,93.95 534.62,94.07 535.7,94.4 C536.78,94.73 537.47,95.33 538.5,96 C539.53,96.67 540.73,97.48 541.9,98.4 C543.07,99.32 544.25,100.43 545.5,101.5 C546.75,102.57 548.15,103.63 549.4,104.8 C550.65,105.97 551.75,107.25 553,108.5 C554.25,109.75 555.73,111.05 556.9,112.3 C558.07,113.55 558.97,114.47 560,116 C561.03,117.53 562.18,119.75 563.1,121.5 C564.02,123.25 564.8,124.58 565.5,126.5 C566.2,128.42 566.8,130.75 567.3,133 C567.8,135.25 568.13,137.5 568.5,140 C568.87,142.5 569.17,144.67 569.5,148 C569.83,151.33 570.17,156 570.5,160 C570.83,164 571.15,167.45 571.5,172 C571.85,176.55 572.27,182.47 572.6,187.3 C572.93,192.13 573.18,196.65 573.5,201 C573.82,205.35 574.17,212.73 574.5,213.4 C574.83,214.07 575.2,208.07 575.5,205 C575.8,201.93 576,197.45 576.3,195 C576.6,192.55 576.95,189.3 577.3,190.3 C577.65,191.3 578,196.13 578.4,201 C578.8,205.87 579.3,218.83 579.7,219.5 C580.1,220.17 580.42,210.37 580.8,205 C581.18,199.63 581.63,193.47 582,187.3 C582.37,181.13 582.7,173.38 583,168 C583.3,162.62 583.52,158.25 583.8,155 C584.08,151.75 584.37,148.83 584.7,148.5 C585.03,148.17 585.38,150.25 585.8,153 C586.22,155.75 586.77,161.15 587.2,165 C587.63,168.85 588.03,172.38 588.4,176.1 C588.77,179.82 588.92,182.48 589.4,187.3 C589.88,192.12 590.65,198.22 591.3,205 C591.95,211.78 592.6,219.67 593.3,228 C594,236.33 594.8,246.67 595.5,255 C596.2,263.33 596.83,270.5 597.5,278 C598.17,285.5 598.83,293.33 599.5,300 C600.17,306.67 600.8,313 601.5,318 C602.2,323 603.03,326.75 603.7,330 C604.37,333.25 604.87,335.9 605.5,337.5 C606.13,339.1 606.83,339.6 607.5,339.6 C608.17,339.6 608.87,338.77 609.5,337.5 C610.13,336.23 610.8,334.08 611.3,332 C611.8,329.92 611.97,329.5 612.5,325 C613.03,320.5 613.75,312.5 614.5,305 C615.25,297.5 616.13,287.5 617,280 C617.87,272.5 618.92,268.33 619.7,260 C620.48,251.67 621.03,240 621.7,230 C622.37,220 623.07,209.17 623.7,200 C624.33,190.83 624.88,182.95 625.5,175 C626.12,167.05 626.78,159.13 627.4,152.3 C628.02,145.47 628.58,139.38 629.2,134 C629.82,128.62 630.43,124.83 631.1,120 C631.77,115.17 632.47,109.25 633.2,105 C633.93,100.75 634.75,98.33 635.5,94.5 C636.25,90.67 636.98,85.38 637.7,82 C638.42,78.62 639.08,75.87 639.8,74.2 C640.52,72.53 641.27,72.43 642,72 C642.73,71.57 642.87,71.57 644.2,71.6 C645.53,71.63 648.03,71.93 650,72.2 C651.97,72.47 653.83,72.82 656,73.2 C658.17,73.58 661.83,74.28 663,74.5" fill="none" stroke="#000" stroke-width="2.1" stroke-linejoin="round"/>
<path d="M379.3,154 C379.32,155 379.33,158.08 379.4,160 C379.47,161.92 379.43,163.75 379.7,165.5 C379.97,167.25 380.52,168.85 381,170.5 C381.48,172.15 382.1,172.82 382.6,175.4 C383.1,177.98 383.5,181.08 384,186 C384.5,190.92 385.12,199.45 385.6,204.9 C386.08,210.35 386.48,214.55 386.9,218.7 C387.32,222.85 387.77,226.25 388.1,229.8 C388.43,233.35 388.7,236.22 388.9,240 C389.1,243.78 389.08,251.5 389.3,252.5 C389.52,253.5 389.92,247.95 390.2,246 C390.48,244.05 390.67,240.8 391,240.8 C391.33,240.8 391.7,243.47 392.2,246 C392.7,248.53 393.5,253.28 394,256 C394.5,258.72 394.7,260.13 395.2,262.3 C395.7,264.47 396.27,267.13 397,269 C397.73,270.87 398.85,273.25 399.6,273.5 C400.35,273.75 400.85,272.42 401.5,270.5 C402.15,268.58 402.83,265.25 403.5,262 C404.17,258.75 404.87,254.83 405.5,251 C406.13,247.17 406.67,243.33 407.3,239 C407.93,234.67 408.7,229 409.3,225 C409.9,221 410.42,217.5 410.9,215 C411.38,212.5 411.85,211.05 412.2,210 C412.55,208.95 412.7,208.2 413,208.7 C413.3,209.2 413.7,209.45 414,213 C414.3,216.55 414.55,222.17 414.8,230 C415.05,237.83 415.25,248.33 415.5,260 C415.75,271.67 416.05,289.17 416.3,300 C416.55,310.83 416.8,319.33 417,325 C417.2,330.67 417.33,334 417.5,334 C417.67,334 417.83,332.33 418,325 C418.17,317.67 418.33,302.5 418.5,290 C418.67,277.5 418.85,261.67 419,250 C419.15,238.33 419.2,228.33 419.4,220 C419.6,211.67 419.93,204.83 420.2,200 C420.47,195.17 420.7,192.9 421,191 C421.3,189.1 421.58,188.6 422,188.6 C422.42,188.6 423,188.93 423.5,191 C424,193.07 424.58,197 425,201 C425.42,205 425.63,207.67 426,215 C426.37,222.33 426.83,230.83 427.2,245 C427.57,259.17 427.87,280.83 428.2,300 C428.53,319.17 428.92,342.17 429.2,360 C429.48,377.83 429.63,406 429.9,407 C430.17,408 430.48,377.5 430.8,366 C431.12,354.5 431.47,338 431.8,338 C432.13,338 432.48,356.83 432.8,366 C433.12,375.17 433.45,393.17 433.7,393 C433.95,392.83 434.13,380.5 434.3,365 C434.47,349.5 434.55,320.83 434.7,300 C434.85,279.17 435.02,256.67 435.2,240 C435.38,223.33 435.52,210.28 435.8,200 C436.08,189.72 436.52,181.13 436.9,178.3 C437.28,175.47 437.68,179.38 438.1,183 C438.52,186.62 439,195.17 439.4,200 C439.8,204.83 440.1,207.67 440.5,212 C440.9,216.33 441.38,222.17 441.8,226 C442.22,229.83 442.65,235 443,235 C443.35,235 443.57,229.37 443.9,226 C444.23,222.63 444.53,215.47 445,214.8 C445.47,214.13 446.03,221.58 446.7,222 C447.37,222.42 448.37,217.3 449,217.3 C449.63,217.3 449.98,219.38 450.5,222 C451.02,224.62 451.65,228.67 452.1,233 C452.55,237.33 452.83,244.83 453.2,248 C453.57,251.17 453.78,250.42 454.3,252 C454.82,253.58 455.68,255.75 456.3,257.5 C456.92,259.25 457.47,261.17 458,262.5 C458.53,263.83 459,265.67 459.5,265.5 C460,265.33 460.48,263.17 461,261.5 C461.52,259.83 462.15,257.75 462.6,255.5 C463.05,253.25 463.42,251.08 463.7,248 C463.98,244.92 464.13,241.33 464.3,237 C464.47,232.67 464.72,227.33 464.7,222 C464.68,216.67 464.07,210.67 464.2,205 C464.33,199.33 465.03,192.17 465.5,188 C465.97,183.83 466.27,182.28 467,180 C467.73,177.72 469.03,175.72 469.9,174.3 C470.77,172.88 471.43,171.95 472.2,171.5 C472.97,171.05 473.78,171.27 474.5,171.6 C475.22,171.93 475.88,173.02 476.5,173.5 C477.12,173.98 477.53,175.08 478.2,174.5 C478.87,173.92 479.72,171.33 480.5,170 C481.28,168.67 482.07,167.5 482.9,166.5 C483.73,165.5 484.57,164.57 485.5,164 C486.43,163.43 487.38,163.43 488.5,163.1 C489.62,162.77 490.95,162.17 492.2,162 C493.45,161.83 494.95,161.85 496,162.1 C497.05,162.35 497.73,163.18 498.5,163.5 C499.27,163.82 499.85,164.42 500.6,164 C501.35,163.58 502.22,161.78 503,161 C503.78,160.22 504.3,159.58 505.3,159.3 C506.3,159.02 507.97,158.93 509,159.3 C510.03,159.67 510.57,160.62 511.5,161.5 C512.43,162.38 513.68,164.35 514.6,164.6 C515.52,164.85 516.22,163.42 517,163 C517.78,162.58 518.55,162.02 519.3,162.1 C520.05,162.18 520.72,163.03 521.5,163.5 C522.28,163.97 522.92,164.4 524,164.9 C525.08,165.4 526.77,166.03 528,166.5 C529.23,166.97 530.05,167.33 531.4,167.7 C532.75,168.07 534.75,168.15 536.1,168.7 C537.45,169.25 538.42,170.07 539.5,171 C540.58,171.93 541.27,173.13 542.6,174.3 C543.93,175.47 546.25,177.22 547.5,178 C548.75,178.78 549.27,178.5 550.1,179 C550.93,179.5 551.57,179.77 552.5,181 C553.43,182.23 554.67,184.27 555.7,186.4 C556.73,188.53 557.73,191.95 558.7,193.8 C559.67,195.65 560.73,196.4 561.5,197.5 C562.27,198.6 562.63,199.15 563.3,200.4 C563.97,201.65 564.87,203.13 565.5,205 C566.13,206.87 566.6,209.27 567.1,211.6 C567.6,213.93 568.03,216.2 568.5,219 C568.97,221.8 569.43,224.9 569.9,228.4 C570.37,231.9 570.87,235.73 571.3,240 C571.73,244.27 572.12,249.45 572.5,254 C572.88,258.55 573.3,262.8 573.6,267.3 C573.9,271.8 574.08,277.3 574.3,281 C574.52,284.7 574.63,290.33 574.9,289.5 C575.17,288.67 575.5,280.5 575.9,276 C576.3,271.5 576.87,262.83 577.3,262.5 C577.73,262.17 578.12,270.08 578.5,274 C578.88,277.92 579.25,287 579.6,286 C579.95,285 580.28,274 580.6,268 C580.92,262 581.2,256.33 581.5,250 C581.8,243.67 582.08,236.67 582.4,230 C582.72,223.33 583,214.93 583.4,210 C583.8,205.07 584.33,200.4 584.8,200.4 C585.27,200.4 585.73,205.97 586.2,210 C586.67,214.03 587.05,220.43 587.6,224.6 C588.15,228.77 588.85,230.43 589.5,235 C590.15,239.57 590.83,246.5 591.5,252 C592.17,257.5 592.83,262.5 593.5,268 C594.17,273.5 594.83,279.33 595.5,285 C596.17,290.67 596.83,296.5 597.5,302 C598.17,307.5 598.82,312.83 599.5,318 C600.18,323.17 600.95,327.67 601.6,333 C602.25,338.33 602.78,345.75 603.4,350 C604.02,354.25 604.62,356.57 605.3,358.5 C605.98,360.43 606.8,361.6 607.5,361.6 C608.2,361.6 608.82,360.43 609.5,358.5 C610.18,356.57 611.03,353.08 611.6,350 C612.17,346.92 612.5,343.33 612.9,340 C613.3,336.67 613.42,335.83 614,330 C614.58,324.17 615.62,313.33 616.4,305 C617.18,296.67 617.95,287.5 618.7,280 C619.45,272.5 620.2,268.33 620.9,260 C621.6,251.67 622.23,240 622.9,230 C623.57,220 624.35,208.33 624.9,200 C625.45,191.67 625.73,186.67 626.2,180 C626.67,173.33 627.08,165.75 627.7,160 C628.32,154.25 629.18,149.33 629.9,145.5 C630.62,141.67 631.18,139.33 632,137 C632.82,134.67 633.7,132.67 634.8,131.5 C635.9,130.33 637.4,130.17 638.6,130 C639.8,129.83 640.58,130.28 642,130.5 C643.42,130.72 644.93,130.88 647.1,131.3 C649.27,131.72 652.27,132.38 655,133 C657.73,133.62 662.08,134.67 663.5,135" fill="none" stroke="#0000ff" stroke-width="2.1" stroke-linejoin="round"/>
<path d="M379.4,184.4 C379.4,185.33 379.38,188.03 379.4,190 C379.42,191.97 379.37,194.2 379.5,196.2 C379.63,198.2 379.9,200.13 380.2,202 C380.5,203.87 380.7,203.82 381.3,207.4 C381.9,210.98 383.12,218.82 383.8,223.5 C384.48,228.18 384.75,231.37 385.4,235.5 C386.05,239.63 387.1,244.55 387.7,248.3 C388.3,252.05 388.67,254.97 389,258 C389.33,261.03 389.45,265.25 389.7,266.5 C389.95,267.75 390.25,265.5 390.5,265.5 C390.75,265.5 390.87,265.5 391.2,266.5 C391.53,267.5 391.87,268.75 392.5,271.5 C393.13,274.25 394.17,279.58 395,283 C395.83,286.42 396.57,289.6 397.5,292 C398.43,294.4 399.68,297.15 400.6,297.4 C401.52,297.65 402.18,295.57 403,293.5 C403.82,291.43 404.77,288.08 405.5,285 C406.23,281.92 406.73,278.83 407.4,275 C408.07,271.17 408.87,265.83 409.5,262 C410.13,258.17 410.73,254.58 411.2,252 C411.67,249.42 411.95,247.72 412.3,246.5 C412.65,245.28 412.97,244.28 413.3,244.7 C413.63,245.12 414,244.78 414.3,249 C414.6,253.22 414.83,261.5 415.1,270 C415.37,278.5 415.63,291.33 415.9,300 C416.17,308.67 416.47,316.83 416.7,322 C416.93,327.17 417.1,331 417.3,331 C417.5,331 417.7,328.83 417.9,322 C418.1,315.17 418.33,300.33 418.5,290 C418.67,279.67 418.77,270.33 418.9,260 C419.03,249.67 419.1,235.5 419.3,228 C419.5,220.5 419.78,218 420.1,215 C420.42,212 420.78,211.17 421.2,210 C421.62,208.83 422.13,208.08 422.6,208 C423.07,207.92 423.52,208.33 424,209.5 C424.48,210.67 425.05,211.92 425.5,215 C425.95,218.08 426.37,220.5 426.7,228 C427.03,235.5 427.23,248 427.5,260 C427.77,272 428.02,285 428.3,300 C428.58,315 428.93,334.17 429.2,350 C429.47,365.83 429.63,394.67 429.9,395 C430.17,395.33 430.48,364.33 430.8,352 C431.12,339.67 431.47,321 431.8,321 C432.13,321 432.47,342.08 432.8,352 C433.13,361.92 433.55,380.83 433.8,380.5 C434.05,380.17 434.15,363.42 434.3,350 C434.45,336.58 434.57,315.83 434.7,300 C434.83,284.17 434.97,267.5 435.1,255 C435.23,242.5 435.35,233.17 435.5,225 C435.65,216.83 435.77,210.8 436,206 C436.23,201.2 436.55,197.53 436.9,196.2 C437.25,194.87 437.7,196.53 438.1,198 C438.5,199.47 438.88,202.17 439.3,205 C439.72,207.83 440.18,211.33 440.6,215 C441.02,218.67 441.45,223.17 441.8,227 C442.15,230.83 442.47,235.33 442.7,238 C442.93,240.67 443,243.5 443.2,243 C443.4,242.5 443.58,238.28 443.9,235 C444.22,231.72 444.6,223.38 445.1,223.3 C445.6,223.22 446.23,234.18 446.9,234.5 C447.57,234.82 448.48,225.62 449.1,225.2 C449.72,224.78 450.07,228.7 450.6,232 C451.13,235.3 451.87,241.42 452.3,245 C452.73,248.58 452.78,251.83 453.2,253.5 C453.62,255.17 454.28,253.97 454.8,255 C455.32,256.03 455.77,258.2 456.3,259.7 C456.83,261.2 457.45,262.68 458,264 C458.55,265.32 459.07,267.77 459.6,267.6 C460.13,267.43 460.67,264.77 461.2,263 C461.73,261.23 462.35,259.17 462.8,257 C463.25,254.83 463.62,252.83 463.9,250 C464.18,247.17 464.33,244.17 464.5,240 C464.67,235.83 464.78,230 464.9,225 C465.02,220 465.08,213.67 465.2,210 C465.32,206.33 465.5,204.83 465.6,203 C465.7,201.17 465.55,200.22 465.8,199 C466.05,197.78 466.57,196.43 467.1,195.7 C467.63,194.97 468.38,194.78 469,194.6 C469.62,194.42 470.2,194.28 470.8,194.6 C471.4,194.92 471.98,195.23 472.6,196.5 C473.22,197.77 473.93,199.95 474.5,202.2 C475.07,204.45 475.53,207.37 476,210 C476.47,212.63 476.92,216.02 477.3,218 C477.68,219.98 477.97,221.73 478.3,221.9 C478.63,222.07 478.93,221.65 479.3,219 C479.67,216.35 480.05,210.03 480.5,206 C480.95,201.97 481.28,198.53 482,194.8 C482.72,191.07 483.72,186.25 484.8,183.6 C485.88,180.95 487.3,179.87 488.5,178.9 C489.7,177.93 490.75,178.02 492,177.8 C493.25,177.58 494.72,177.7 496,177.6 C497.28,177.5 498.77,176.87 499.7,177.2 C500.63,177.53 500.88,179.47 501.6,179.6 C502.32,179.73 503.23,178.43 504,178 C504.77,177.57 505.47,177.37 506.2,177 C506.93,176.63 507.82,175.88 508.4,175.8 C508.98,175.72 509.28,175.98 509.7,176.5 C510.12,177.02 510.35,178.15 510.9,178.9 C511.45,179.65 512.22,180.22 513,181 C513.78,181.78 514.55,183.48 515.6,183.6 C516.65,183.72 518.15,181.8 519.3,181.7 C520.45,181.6 521.42,182.68 522.5,183 C523.58,183.32 524.63,183.52 525.8,183.6 C526.97,183.68 528.25,183.5 529.5,183.5 C530.75,183.5 532.22,183.38 533.3,183.6 C534.38,183.82 535.07,184.33 536,184.8 C536.93,185.27 537.48,185.52 538.9,186.4 C540.32,187.28 542.98,189.25 544.5,190.1 C546.02,190.95 546.75,190.88 548,191.5 C549.25,192.12 550.75,192.72 552,193.8 C553.25,194.88 554.58,196.75 555.5,198 C556.42,199.25 556.75,199.97 557.5,201.3 C558.25,202.63 559.25,204.63 560,206 C560.75,207.37 561.28,208.27 562,209.5 C562.72,210.73 563.58,211.9 564.3,213.4 C565.02,214.9 565.68,216.63 566.3,218.5 C566.92,220.37 567.5,222.18 568,224.6 C568.5,227.02 568.92,229.93 569.3,233 C569.68,236.07 569.93,239.33 570.3,243 C570.67,246.67 571.12,251.33 571.5,255 C571.88,258.67 572.25,262 572.6,265 C572.95,268 573.28,270.17 573.6,273 C573.92,275.83 574.25,279.58 574.5,282 C574.75,284.42 574.8,288.67 575.1,287.5 C575.4,286.33 575.92,278.67 576.3,275 C576.68,271.33 577.03,265.33 577.4,265.5 C577.77,265.67 578.13,272.12 578.5,276 C578.87,279.88 579.2,289.47 579.6,288.8 C580,288.13 580.5,277.63 580.9,272 C581.3,266.37 581.67,260.17 582,255 C582.33,249.83 582.6,244.83 582.9,241 C583.2,237.17 583.48,234.27 583.8,232 C584.12,229.73 584.43,227.57 584.8,227.4 C585.17,227.23 585.47,228.57 586,231 C586.53,233.43 587.33,237.67 588,242 C588.67,246.33 589.33,252 590,257 C590.67,262 591.37,267.33 592,272 C592.63,276.67 593.13,280.33 593.8,285 C594.47,289.67 595.3,294.83 596,300 C596.7,305.17 597.42,311 598,316 C598.58,321 599,324.33 599.5,330 C600,335.67 600.5,344.67 601,350 C601.5,355.33 601.87,358.58 602.5,362 C603.13,365.42 603.97,368.4 604.8,370.5 C605.63,372.6 606.58,374.6 607.5,374.6 C608.42,374.6 609.47,372.6 610.3,370.5 C611.13,368.4 611.88,365.42 612.5,362 C613.12,358.58 613.48,354 614,350 C614.52,346 615.07,341.33 615.6,338 C616.13,334.67 616.63,334 617.2,330 C617.77,326 618.43,319 619,314 C619.57,309 620.05,305.67 620.6,300 C621.15,294.33 621.75,286.67 622.3,280 C622.85,273.33 623.4,265.83 623.9,260 C624.4,254.17 624.82,250 625.3,245 C625.78,240 626.32,235 626.8,230 C627.28,225 627.72,220 628.2,215 C628.68,210 629.18,205.67 629.7,200 C630.22,194.33 630.65,187 631.3,181 C631.95,175 632.82,168 633.6,164 C634.38,160 635.17,158.7 636,157 C636.83,155.3 637.55,154.33 638.6,153.8 C639.65,153.27 640.4,153.52 642.3,153.8 C644.2,154.08 646.47,154.55 650,155.5 C653.53,156.45 661.25,158.83 663.5,159.5" fill="none" stroke="#ff0000" stroke-width="2.1" stroke-linejoin="round"/>
<text x="393.7" y="347.9" font-size="12.5" font-weight="bold" fill="#000" stroke="#000" stroke-width="0.3" textLength="24.9" lengthAdjust="spacingAndGlyphs" transform="rotate(-90 393.7 347.9)">512</text>
<text x="406.2" y="354.7" font-size="12.5" font-weight="bold" fill="#000" stroke="#000" stroke-width="0.3" textLength="23.6" lengthAdjust="spacingAndGlyphs" transform="rotate(-90 406.2 354.7)">701</text>
<text x="424.2" y="362.5" font-size="12.5" font-weight="bold" fill="#000" stroke="#000" stroke-width="0.3" textLength="25" lengthAdjust="spacingAndGlyphs" transform="rotate(-90 424.2 362.5)">890</text>
<text x="448.9" y="278.5" font-size="12.5" font-weight="bold" fill="#000" stroke="#000" stroke-width="0.3" textLength="31.2" lengthAdjust="spacingAndGlyphs" transform="rotate(-90 448.9 278.5)">1339</text>
<text x="465.6" y="304" font-size="12.5" font-weight="bold" fill="#000" stroke="#000" stroke-width="0.3" textLength="32.7" lengthAdjust="spacingAndGlyphs" transform="rotate(-90 465.6 304)">1453</text>
<text x="484.5" y="301" font-size="12.5" font-weight="bold" fill="#000" stroke="#000" stroke-width="0.3" textLength="32.7" lengthAdjust="spacingAndGlyphs" transform="rotate(-90 484.5 301)">1600</text>
<text x="577.3" y="326.1" font-size="12.5" font-weight="bold" fill="#000" stroke="#000" stroke-width="0.3" textLength="33.2" lengthAdjust="spacingAndGlyphs" transform="rotate(-90 577.3 326.1)">2855</text>
<text x="588" y="326.1" font-size="12.5" font-weight="bold" fill="#000" stroke="#000" stroke-width="0.3" textLength="33.2" lengthAdjust="spacingAndGlyphs" transform="rotate(-90 588 326.1)">2928</text>
<text x="591.9" y="388.6" font-size="12.5" font-weight="bold" fill="#000" stroke="#000" stroke-width="0.3" textLength="35.1" lengthAdjust="spacingAndGlyphs">3430</text>
<text x="416.7" y="426.8" font-size="12.5" font-weight="bold" fill="#000" stroke="#000" stroke-width="0.3" textLength="34.4" lengthAdjust="spacingAndGlyphs">1230</text>
<line x1="479.3" y1="265.4" x2="479.3" y2="232.3" stroke="#c2c2c2" stroke-width="1.1"/>
<path d="M477.55,232.8 L481.05,232.8 L479.3,227 Z" fill="#000"/>
</svg></body></html>
